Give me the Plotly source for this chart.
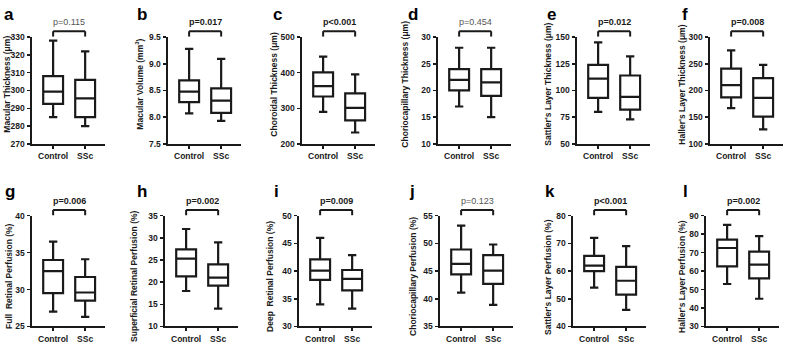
import plotly.graph_objects as go

W, H = 787, 346

categories = ["Control", "SSc"]
panel_letters = ["a", "b", "c", "d", "e", "f", "g", "h", "i", "j", "k", "l"]
y_titles = [
    "Macular Thickness (μm)", "Macular Volume (mm<sup>3</sup>)", "Choroidal Thickness (μm)",
    "Choriocapillary Thickness (μm)", "Sattler's Layer Thickness (μm)", "Haller's Layer Thickness (μm)",
    "Full  Retinal Perfusion (%)", "Superficial Retinal Perfusion (%)", "Deep  Retinal Perfusion (%)",
    "Choriocapillary Perfusion (%)", "Sattler's Layer Perfusion (%)", "Haller's Layer Perfusion (%)",
]
p_labels = ["p=0.115", "p=0.017", "p<0.001", "p=0.454", "p=0.012", "p=0.008",
            "p=0.006", "p=0.002", "p=0.009", "p=0.123", "p<0.001", "p=0.002"]
p_significant = [False, True, True, False, True, True, True, True, True, False, True, True]

y_min = [270, 7.5, 200, 10, 50, 100, 25, 10, 30, 35, 40, 30]
y_max = [330, 9.5, 500, 30, 150, 300, 40, 35, 50, 55, 80, 90]
y_step = [10, 0.5, 100, 5, 25, 50, 5, 5, 5, 5, 10, 10]
y_fmt = [".0f", ".1f", ".0f", ".0f", ".0f", ".0f", ".0f", ".0f", ".0f", ".0f", ".0f", ".0f"]

ctrl_low = [285, 8.07, 290, 17, 80, 167, 27.0, 18.0, 34.0, 41.1, 54, 53]
ctrl_q1 = [292.5, 8.28, 333, 20, 93, 187, 29.5, 21.3, 38.4, 44.4, 60, 62.5]
ctrl_med = [299.3, 8.48, 362, 22, 111, 210, 32.5, 25.3, 40.1, 46.3, 62, 72.5]
ctrl_q3 = [308, 8.69, 401, 24, 124, 241, 34.0, 27.4, 42.1, 48.9, 65.5, 77]
ctrl_high = [328, 9.28, 445, 28, 145, 275, 36.5, 32.0, 46.0, 53.2, 72, 85]

ssc_low = [280, 7.93, 232, 15, 73, 127, 26.3, 14.0, 33.2, 38.9, 46, 45]
ssc_q1 = [285, 8.08, 266, 19, 82, 151, 28.5, 19.2, 36.5, 42.7, 51.5, 56]
ssc_med = [295.6, 8.31, 301, 21.5, 94, 186, 29.6, 21.0, 38.6, 45.1, 56.5, 63.5]
ssc_q3 = [306, 8.54, 342, 24, 114, 223, 31.7, 24.0, 40.2, 47.9, 61.5, 70.5]
ssc_high = [322, 9.09, 395, 28, 132, 248, 34.1, 29.0, 42.9, 49.8, 69, 79]

# layout in pixels
axis_x_px = [32, 168, 302, 438, 577, 710, 32, 165, 299, 440, 573, 706]
title_x_px = [7, 140, 274, 405, 548, 682, 9, 134, 270, 413, 548, 682]
letter_x_px = [9, 142, 277, 413, 551, 685, 10, 142, 276, 412, 550, 685]
row_top = [33, 217]
row_bot = [143, 331]
title_shift = [-6, 6]
axis_len = 73

def px(x):
    return x / W

def py(y):
    return 1 - y / H

FONT = "Liberation Sans, Arial, sans-serif"
TXT = "#1a1a1a"

fig = go.Figure()
shapes = []
annotations = []

for i in range(12):
    r = i // 6
    n = "" if i == 0 else str(i + 1)
    xa, ya = "xaxis" + n, "yaxis" + n
    xr, yr = "x" + n, "y" + n
    fig.add_trace(go.Box(
        x=categories,
        q1=[ctrl_q1[i], ssc_q1[i]], median=[ctrl_med[i], ssc_med[i]], q3=[ctrl_q3[i], ssc_q3[i]],
        lowerfence=[ctrl_low[i], ssc_low[i]], upperfence=[ctrl_high[i], ssc_high[i]],
        xaxis=xr, yaxis=yr, width=0.62, whiskerwidth=0.42,
        fillcolor="white", line=dict(color=TXT, width=2.2), boxpoints=False,
        showlegend=False, hoverinfo="skip",
    ))
    x0 = px(axis_x_px[i])
    x1 = px(axis_x_px[i] + axis_len)
    tv = []
    v = y_min[i]
    while v <= y_max[i] + 1e-9:
        tv.append(round(v, 3))
        v += y_step[i]
    fig.layout[xa] = dict(
        domain=[x0, x1], anchor=yr, type="category", range=[-0.66, 1.62],
        showline=True, linecolor=TXT, linewidth=2, ticks="outside", ticklen=3, tickwidth=1.5,
        tickcolor=TXT, showgrid=False, zeroline=False, fixedrange=True,
        tickfont=dict(family=FONT, size=8.5, color=TXT, weight="bold"),
    )
    fig.layout[ya] = dict(
        domain=[py(row_bot[r]), py(row_top[r])], anchor=xr, range=[y_min[i], y_max[i]],
        tickvals=tv, tickformat=y_fmt[i],
        showline=True, linecolor=TXT, linewidth=2, ticks="outside", ticklen=3.5, tickwidth=1.5,
        tickcolor=TXT, showgrid=False, zeroline=False, fixedrange=True,
        tickfont=dict(family=FONT, size=8.5, color=TXT, weight="bold"),
    )
    # y title
    annotations.append(dict(
        x=px(title_x_px[i]), y=py((row_top[r] + row_bot[r]) / 2 + title_shift[r]),
        xref="paper", yref="paper", text=y_titles[i], textangle=-90, showarrow=False,
        xanchor="center", yanchor="middle",
        font=dict(family=FONT, size=8.5, color=TXT, weight="bold"),
    ))
    # letter
    annotations.append(dict(
        x=px(letter_x_px[i]), y=py(10 if r == 0 else 192), xref="paper", yref="paper",
        text=panel_letters[i], showarrow=False, xanchor="center", yanchor="middle",
        font=dict(family=FONT, size=17, color="#000", weight="bold"),
    ))
    # bracket
    yb = py(row_top[r] - 6)
    yl = py(row_top[r] - 0.5)
    for (a, b, c, d) in [(0, yb, 1, yb), (0, yb, 0, yl), (1, yb, 1, yl)]:
        shapes.append(dict(type="line", xref=xr, yref="paper", x0=a, y0=b, x1=c, y1=d,
                           line=dict(color=TXT, width=2)))
    sig = p_significant[i]
    annotations.append(dict(
        x=0.5, y=py(row_top[r] - 15), xref=xr, yref="paper", text=p_labels[i], showarrow=False,
        xanchor="center", yanchor="middle",
        font=dict(family=FONT, size=9, color=TXT if sig else "#555", weight="bold" if sig else "normal"),
    ))

fig.update_layout(
    width=W, height=H, margin=dict(l=0, r=0, t=0, b=0),
    paper_bgcolor="white", plot_bgcolor="white",
    shapes=shapes, annotations=annotations, hovermode=False,
)

fig.write_html("out.html", config={"displayModeBar": False, "staticPlot": True},
               post_script="document.body.style.margin='0px';document.body.style.overflow='hidden';")
